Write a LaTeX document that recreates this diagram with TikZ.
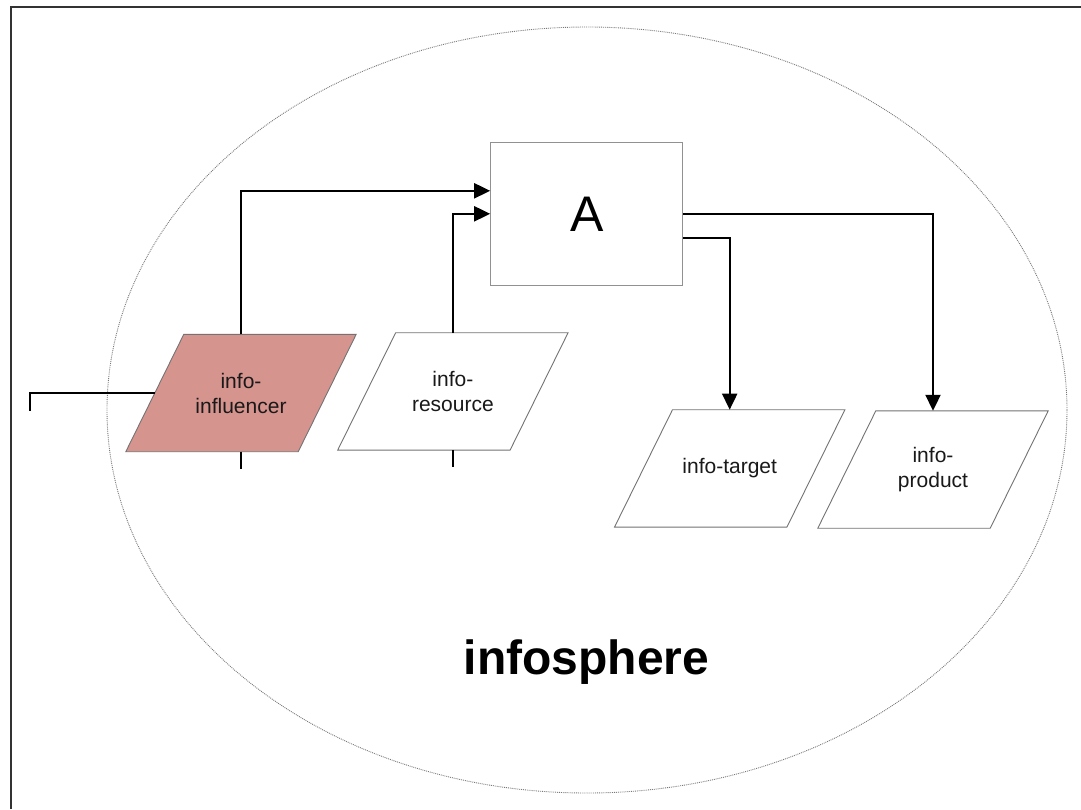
\documentclass[tikz,border=0pt]{standalone}
\usepackage{fontspec}
\setmainfont{Liberation Sans}
\usetikzlibrary{arrows.meta,calc,backgrounds,shapes.geometric}

\definecolor{influencerfill}{RGB}{214,148,143}
\definecolor{framegray}{RGB}{50,50,50}
\definecolor{edgegray}{RGB}{115,115,115}
\definecolor{boxgray}{RGB}{145,145,145}
\definecolor{spheregray}{RGB}{120,120,120}
\definecolor{labelink}{RGB}{25,25,25}

\tikzset{
  parabox/.style={rectangle, minimum width=172pt, minimum height=117pt,
    inner sep=0pt, align=center, text=labelink,
    font=\fontsize{21}{25}\selectfont},
  parashape/.style={draw=edgegray, line width=0.9pt},
  actbox/.style={rectangle, draw=boxgray, line width=1pt, fill=white,
    minimum width=192pt, minimum height=143pt, inner sep=0pt,
    font=\fontsize{50}{52}\selectfont},
  spherering/.style={ellipse, draw=spheregray, densely dotted, line width=0.9pt,
    minimum width=960pt, minimum height=766pt, inner sep=0pt},
  flow/.style={line width=2pt, -{Triangle[length=16pt,width=15pt]}},
  wire/.style={line width=2pt},
}

% slanted outline (parallelogram) behind a parabox node
\newcommand\slantoutline[2]{%
  \begin{scope}[on background layer]
    \draw[parashape, fill=#2]
      ($(#1.north west)+(29,0)$) -- ($(#1.north east)+(29,0)$) --
      ($(#1.south east)+(-29,0)$) -- ($(#1.south west)+(-29,0)$) -- cycle;
  \end{scope}}

\begin{document}
\begin{tikzpicture}[x=1pt, y=-1pt]
  \useasboundingbox (0,0) rectangle (1081,809);

  % outer frame
  \draw[framegray, line width=2pt] (11,809) -- (11,7) -- (1081,7);

  % the infosphere
  \begin{scope}[on background layer]
    \node[spherering] (sphere) at (587,410) {};
  \end{scope}
  \node[font=\fontsize{48}{50}\selectfont\bfseries, anchor=base] (spherelabel)
    at (586.5,674) {infosphere};

  % process box
  \node[actbox] (act) at (586.7,213.8) {A};

  % information objects
  \node[parabox] (infl) at (241,393) {info-\\influencer};
  \slantoutline{infl}{influencerfill}
  \node[parabox] (res) at (452.9,391.4) {info-\\resource};
  \slantoutline{res}{white}
  \node[parabox] (tgt) at (729.7,468.4) {info-target};
  \slantoutline{tgt}{white}
  \node[parabox] (prod) at (933,469.5) {info-\\product};
  \slantoutline{prod}{white}

  % loose ends
  \coordinate (inflleft) at (30,411);
  \coordinate (inflout) at ([yshift=-17pt]infl.south);
  \coordinate (resout) at ([yshift=-17pt]res.south);

  % connectors
  \draw[flow] (infl.north) |- ([yshift=23pt]act.west);
  \draw[flow] (res.north) |- (act.west);
  \draw[flow] (act.east) -| (prod.north);
  \draw[flow] ([yshift=-24pt]act.east) -| (tgt.north);
  \draw[wire] (infl.west) -| (inflleft);
  \draw[wire] (infl.south) -- (inflout);
  \draw[wire] (res.south) -- (resout);
\end{tikzpicture}
\end{document}
